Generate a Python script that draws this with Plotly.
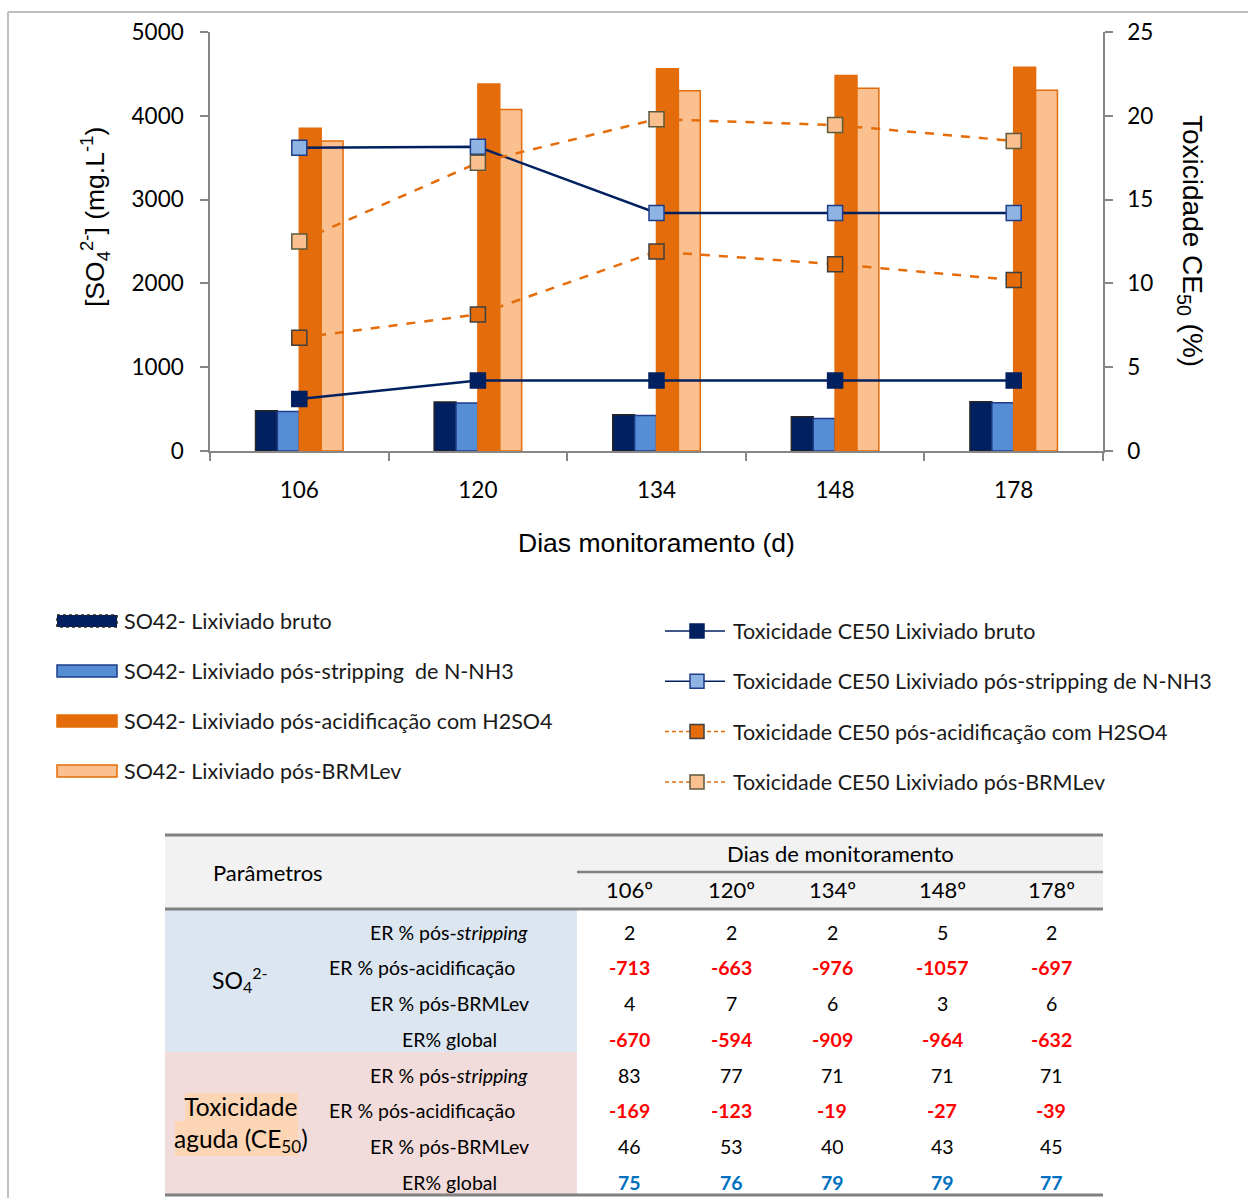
import plotly.graph_objects as go

W, H = 1248, 1198

# ---- data -------------------------------------------------------------
days = ["106", "120", "134", "148", "178"]

so4_bruto = [480, 586, 432, 408, 588]
so4_stripping = [472, 574, 424, 388, 576]
so4_acidificacao = [3850, 4380, 4560, 4480, 4580]
so4_brmlev = [3700, 4075, 4300, 4330, 4305]

ce50_bruto = [3.1, 4.2, 4.2, 4.2, 4.2]
ce50_stripping = [18.1, 18.15, 14.2, 14.2, 14.2]
ce50_acidificacao = [6.75, 8.15, 11.9, 11.15, 10.2]
ce50_brmlev = [12.5, 17.2, 19.8, 19.45, 18.5]

bar_names = [
    "SO42- Lixiviado bruto",
    "SO42- Lixiviado pós-stripping  de N-NH3",
    "SO42- Lixiviado pós-acidificação com H2SO4",
    "SO42- Lixiviado pós-BRMLev",
]
line_names = [
    "Toxicidade CE50 Lixiviado bruto",
    "Toxicidade CE50 Lixiviado pós-stripping de N-NH3",
    "Toxicidade CE50 pós-acidificação com H2SO4",
    "Toxicidade CE50 Lixiviado pós-BRMLev",
]

table_days = ["106º", "120º", "134º", "148º", "178º"]
row_labels = ["ER % pós-<i>stripping</i>", "ER % pós-acidificação",
              "ER % pós-BRMLev", "ER% global"]
er_so4 = [
    [2, 2, 2, 5, 2],
    [-713, -663, -976, -1057, -697],
    [4, 7, 6, 3, 6],
    [-670, -594, -909, -964, -632],
]
er_tox = [
    [83, 77, 71, 71, 71],
    [-169, -123, -19, -27, -39],
    [46, 53, 40, 43, 45],
    [75, 76, 79, 79, 77],
]

# ---- styles -----------------------------------------------------------
NAVY = "#002060"
ORANGE = "#e46c0a"
bar_fill = [NAVY, "#558ed5", ORANGE, "#fac090"]
bar_edge = ["#262626", "#1f3c88", ORANGE, ORANGE]
line_color = [NAVY, NAVY, ORANGE, ORANGE]
line_dash = ["solid", "solid", "dash", "dash"]
mk_fill = [NAVY, "#8db4e2", ORANGE, "#fac090"]
mk_edge = [NAVY, "#1f3c88", "#3f3f3f", "#5c5a3c"]

CAL = "Lato, Carlito, sans-serif"
ARIAL = "Liberation Sans, Arial, sans-serif"
AXIS_GREY = "#868686"


def fx(x):
    return x / W


def fy(y):
    return 1 - y / H


fig = go.Figure()

so4_series = [so4_bruto, so4_stripping, so4_acidificacao, so4_brmlev]
ce50_series = [ce50_bruto, ce50_stripping, ce50_acidificacao, ce50_brmlev]

for vals, name, fc, ec in zip(so4_series, bar_names, bar_fill, bar_edge):
    fig.add_trace(go.Bar(
        x=days, y=vals, name=name, showlegend=False,
        marker=dict(color=fc, line=dict(color=ec, width=1.5)),
    ))

for vals, name, lc, ld, mf, me in zip(ce50_series, line_names, line_color,
                                      line_dash, mk_fill, mk_edge):
    fig.add_trace(go.Scatter(
        x=days, y=vals, name=name, yaxis="y2", mode="lines+markers",
        showlegend=False,
        line=dict(color=lc, width=2.5, dash=ld),
        marker=dict(symbol="square", size=15, color=mf,
                    line=dict(color=me, width=1.5)),
    ))

shapes = []
annotations = []

# outer frame (left and top edges visible)
shapes.append(dict(type="line", xref="paper", yref="paper",
                   x0=fx(8), x1=fx(8), y0=fy(12), y1=fy(1210),
                   line=dict(color="#bfbfbf", width=2)))
shapes.append(dict(type="line", xref="paper", yref="paper",
                   x0=fx(8), x1=fx(1260), y0=fy(12), y1=fy(12),
                   line=dict(color="#bfbfbf", width=2)))

# axis titles for the two value axes
annotations.append(dict(
    text="[SO<sub>4</sub><sup>2-</sup>] (mg.L<sup>-1</sup>)",
    xref="paper", yref="paper", x=fx(95), y=fy(217),
    xanchor="center", yanchor="middle", showarrow=False, textangle=-90,
    font=dict(family=ARIAL, size=26.5, color="#000"),
))
annotations.append(dict(
    text="Toxicidade CE<sub>50</sub> (%)", xref="paper", yref="paper",
    x=fx(1190), y=fy(241), xanchor="center", yanchor="middle",
    showarrow=False, textangle=90,
    font=dict(family=ARIAL, size=28, color="#000"),
))

# ---- legend: bar series ----------------------------------------------
for i, name in enumerate(bar_names):
    yc = 621 + 50 * i
    shapes.append(dict(type="rect", xref="paper", yref="paper",
                       x0=fx(57), x1=fx(117), y0=fy(yc - 6), y1=fy(yc + 6),
                       fillcolor=bar_fill[i],
                       line=dict(color=bar_edge[i], width=1.5,
                                 dash="dot" if i == 0 else "solid")))
    annotations.append(dict(
        text=name, xref="paper", yref="paper", x=fx(122), y=fy(yc),
        xanchor="left", yanchor="middle", showarrow=False,
        font=dict(family=CAL, size=21.5, color="#1a1a1a"),
    ))

# ---- legend: toxicity series -----------------------------------------
for i, name in enumerate(line_names):
    yc = 631 + 50.3 * i
    shapes.append(dict(type="line", xref="paper", yref="paper",
                       x0=fx(665), x1=fx(725), y0=fy(yc), y1=fy(yc),
                       line=dict(color=line_color[i], width=1.5,
                                 dash="4px,3px" if line_dash[i] == "dash" else "solid")))
    shapes.append(dict(type="rect", xref="paper", yref="paper",
                       x0=fx(690), x1=fx(704), y0=fy(yc - 7), y1=fy(yc + 7),
                       fillcolor=mk_fill[i],
                       line=dict(color=mk_edge[i], width=1.5)))
    annotations.append(dict(
        text=name, xref="paper", yref="paper", x=fx(731), y=fy(yc),
        xanchor="left", yanchor="middle", showarrow=False,
        font=dict(family=CAL, size=21.5, color="#1a1a1a"),
    ))

# ---- table --------------------------------------------------------------
T_X0, T_X1, T_SPLIT = 165, 1103, 577
T_TOP, T_SUB, T_HEAD, T_MID, T_BOT = 835, 872, 909, 1052, 1195
GRID = "#808080"

shapes += [
    dict(type="rect", xref="paper", yref="paper", layer="below",
         x0=fx(T_X0), x1=fx(T_X1), y0=fy(T_TOP), y1=fy(T_HEAD),
         fillcolor="#f2f2f2", line=dict(width=0)),
    dict(type="rect", xref="paper", yref="paper", layer="below",
         x0=fx(T_X0), x1=fx(T_SPLIT), y0=fy(T_HEAD), y1=fy(T_MID),
         fillcolor="#dce6f1", line=dict(width=0)),
    dict(type="rect", xref="paper", yref="paper", layer="below",
         x0=fx(T_X0), x1=fx(T_SPLIT), y0=fy(T_MID), y1=fy(T_BOT),
         fillcolor="#f2dcdb", line=dict(width=0)),
    # highlight behind the toxicity label
    dict(type="rect", xref="paper", yref="paper", layer="below",
         x0=fx(185), x1=fx(298), y0=fy(1093), y1=fy(1121),
         fillcolor="#fcd5b4", line=dict(width=0)),
    dict(type="rect", xref="paper", yref="paper", layer="below",
         x0=fx(175), x1=fx(298), y0=fy(1121), y1=fy(1156),
         fillcolor="#fcd5b4", line=dict(width=0)),
]
for y, x0 in [(T_TOP, T_X0), (T_SUB, T_SPLIT), (T_HEAD, T_X0), (T_BOT, T_X0)]:
    shapes.append(dict(type="line", xref="paper", yref="paper",
                       x0=fx(x0), x1=fx(T_X1), y0=fy(y), y1=fy(y),
                       line=dict(color=GRID, width=3 if y != T_SUB else 2.5)))

TFONT = dict(family=CAL, size=19.5, color="#000")
HFONT = dict(family=CAL, size=22, color="#000")


def cell(text, x, y, font=None, xanchor="center"):
    annotations.append(dict(
        text=text, xref="paper", yref="paper", x=fx(x), y=fy(y),
        xanchor=xanchor, yanchor="middle", showarrow=False,
        font=font or TFONT,
    ))


cell("Parâmetros", 268, 872, HFONT)
cell("Dias de monitoramento", 840, 853, HFONT)
col_x = [629, 731, 832, 942, 1051]
for j, d in enumerate(table_days):
    cell(d, col_x[j], 889, HFONT)

cell("SO<sub>4</sub><sup>2-</sup>", 240, 980, dict(family=CAL, size=23, color="#000"))
cell("Toxicidade<br>aguda (CE<sub>50</sub>)", 241, 1124,
     dict(family=CAL, size=24.5, color="#000"))

label_x = [449, 422, 449, 449]
ROW_STEP = 35.75
for block, values in enumerate([er_so4, er_tox]):
    for r, row in enumerate(values):
        y = 932 + ROW_STEP * (4 * block + r)
        cell(row_labels[r], label_x[r], y)
        for j, v in enumerate(row):
            if r == 1 or (r == 3 and block == 0):
                f = dict(family=CAL, size=19.5, color="#ff0000", weight="bold")
            elif r == 3 and block == 1:
                f = dict(family=CAL, size=19.5, color="#0070c0", weight="bold")
            else:
                f = TFONT
            cell(str(v), col_x[j], y, f)

fig.update_layout(
    width=W, height=H, autosize=False,
    margin=dict(l=0, r=0, t=0, b=0),
    paper_bgcolor="white", plot_bgcolor="white",
    barmode="group", bargap=0.51, bargroupgap=0,
    showlegend=False,
    xaxis=dict(
        domain=[fx(210), fx(1103)], type="category", automargin=False,
        showline=True, linecolor=AXIS_GREY, linewidth=1.5,
        ticks="outside", tickson="boundaries", ticklen=8,
        tickcolor=AXIS_GREY, tickwidth=1.5, showgrid=False, zeroline=False,
        ticklabelstandoff=18,
        tickfont=dict(family=CAL, size=22.5, color="#000"),
        title=dict(text="Dias monitoramento (d)", standoff=32,
                   font=dict(family=ARIAL, size=26.5, color="#000")),
    ),
    yaxis=dict(
        domain=[fy(451), fy(32)], range=[0, 5000], dtick=1000,
        automargin=False, showline=True, linecolor=AXIS_GREY, linewidth=1.5,
        ticks="outside", ticklen=8, tickcolor=AXIS_GREY, tickwidth=1.5,
        showgrid=False, zeroline=False, ticklabelstandoff=12,
        tickfont=dict(family=CAL, size=22.5, color="#000"),
    ),
    yaxis2=dict(
        overlaying="y", side="right", anchor="x", range=[0, 25], dtick=5,
        automargin=False, showline=True, linecolor=AXIS_GREY, linewidth=1.5,
        ticks="outside", ticklen=8, tickcolor=AXIS_GREY, tickwidth=1.5,
        showgrid=False, zeroline=False, ticklabelstandoff=10,
        tickfont=dict(family=CAL, size=22.5, color="#000"),
    ),
    shapes=shapes,
    annotations=annotations,
)

fig.write_html("out.html")
